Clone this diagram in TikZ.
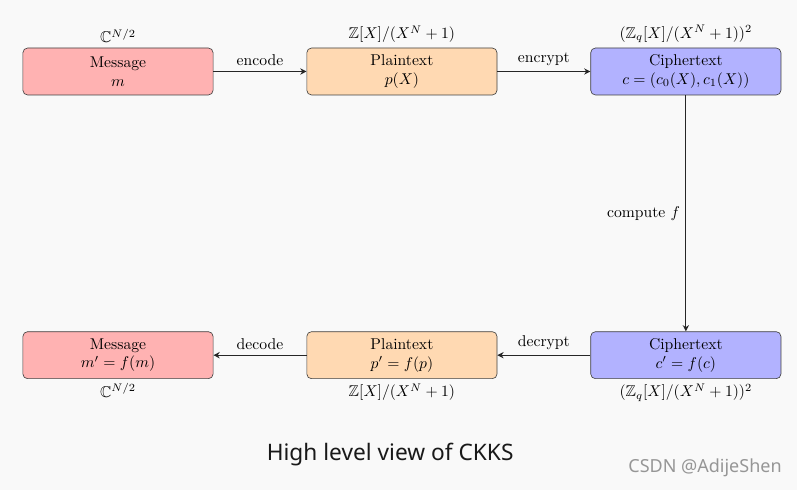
\documentclass[tikz,border=0pt]{standalone}
\usepackage{amsmath,amssymb}
\usepackage{fontspec}
\newfontfamily\capfont{Noto Sans}
\usepackage{tikz}
\usetikzlibrary{positioning, arrows.meta}
\definecolor{page_gray}{RGB}{249,249,249}
\definecolor{mark_gray}{RGB}{150,150,150}
\definecolor{caption_black}{RGB}{25,25,25}
\tikzstyle{block} = [
    rectangle, rounded corners=3pt, align=center,
    minimum width=4.27cm, minimum height=1.055cm,
    inner sep=1mm, draw=black!75, line width=0.4pt,
]
\tikzstyle{message} = [block, fill=red!30]
\tikzstyle{plain} = [block, fill=orange!30]
\tikzstyle{cipher} = [block, fill=blue!30]
\tikzstyle{space} = [inner sep=1mm]
\tikzstyle{arrow} = [thick, -{Stealth[length=4pt, width=4pt]}, draw=black!85]

\begin{document}
\begin{tikzpicture}

    % page
    \fill[page_gray] (-2.649,1.605) rectangle (15.244,-9.395);
    \useasboundingbox (-2.649,1.605) rectangle (15.244,-9.395);

    % top row nodes
    \node[message] (message_in) at (0,0) {Message\\$m$};
    \node[plain] (plain_in) [right=2.09cm of message_in] {Plaintext\\$p(X)$};
    \node[cipher] (cipher_in) [right=2.09cm of plain_in] {Ciphertext\\$c = (c_0(X), c_1(X))$};
    \node[space] (space_message_in) [above=0cm of message_in] {$\mathbb{C}^{N/2}$};
    \node[space] (space_plain_in) [above=0cm of plain_in] {$\mathbb{Z}[X]/(X^N+1)$};
    \node[space] (space_cipher_in) [above=0cm of cipher_in] {$(\mathbb{Z}_q[X]/(X^N+1))^2$};

    % bottom row nodes
    \node[cipher] (cipher_out) [below=5.3cm of cipher_in] {Ciphertext\\$c' = f(c)$};
    \node[plain] (plain_out) [left=2.09cm of cipher_out] {Plaintext\\$p' = f(p)$};
    \node[message] (message_out) [left=2.09cm of plain_out] {Message\\$m' = f(m)$};
    \node[space] (space_message_out) [below=0cm of message_out] {$\mathbb{C}^{N/2}$};
    \node[space] (space_plain_out) [below=0cm of plain_out] {$\mathbb{Z}[X]/(X^N+1)$};
    \node[space] (space_cipher_out) [below=0cm of cipher_out] {$(\mathbb{Z}_q[X]/(X^N+1))^2$};

    % caption and mark
    \node[text=caption_black] (caption) at (6.11,-8.61) {\capfont\fontsize{14.5}{17}\selectfont High level view of CKKS};
    \node[text=mark_gray] (mark) at (13.18,-8.90) {\capfont\fontsize{11.5}{14}\selectfont CSDN @AdijeShen};

    % arrows
    \draw[arrow] (message_in) to node[above, text=black] {encode} (plain_in);
    \draw[arrow] (plain_in) to node[above, text=black] {encrypt} (cipher_in);
    \draw[arrow] (cipher_in) to node[left, text=black] {compute $f$} (cipher_out);
    \draw[arrow] (cipher_out) to node[above, text=black] {decrypt} (plain_out);
    \draw[arrow] (plain_out) to node[above, text=black] {decode} (message_out);
\end{tikzpicture}
\end{document}
